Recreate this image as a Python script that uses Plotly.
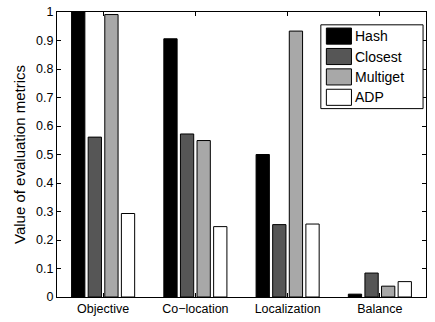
import plotly.graph_objects as go

categories = ["Objective", "Co\u2212location", "Localization", "Balance"]
series_names = ["Hash", "Closest", "Multiget", "ADP"]
hash_vals = [1.0, 0.906, 0.500, 0.010]
closest_vals = [0.561, 0.572, 0.254, 0.084]
multiget_vals = [0.991, 0.549, 0.933, 0.038]
adp_vals = [0.293, 0.247, 0.256, 0.054]
y_ticks = [0, 0.1, 0.2, 0.3, 0.4, 0.5, 0.6, 0.7, 0.8, 0.9, 1]
y_ticklabels = ["0", "0.1", "0.2", "0.3", "0.4", "0.5", "0.6", "0.7", "0.8", "0.9", "1"]

colors = ["#000000", "#565656", "#a8a8a8", "#ffffff"]
all_vals = [hash_vals, closest_vals, multiget_vals, adp_vals]

FONT = "Liberation Sans, Arial, Helvetica, sans-serif"

fig = go.Figure()
for name, vals, c in zip(series_names, all_vals, colors):
    fig.add_trace(go.Bar(
        x=categories, y=vals, name=name, showlegend=False,
        marker=dict(color=c, line=dict(color="#000000", width=1)),
    ))

# Manual MATLAB-style legend
shapes = []
annotations = []
lx0, lx1, ly0, ly1 = 0.715, 0.992, 0.661, 0.955
shapes.append(dict(type="rect", xref="paper", yref="paper", x0=lx0, x1=lx1, y0=ly0, y1=ly1,
                   line=dict(color="#000000", width=1), fillcolor="#ffffff", layer="above"))
row_h = 20.9 / 292
sw_h = 16.5 / 292
top_center = (297 - 29.7) / 292
for i, (name, c) in enumerate(zip(series_names, colors)):
    yc = top_center - i * row_h
    shapes.append(dict(type="rect", xref="paper", yref="paper", x0=0.730, x1=0.798,
                       y0=yc - sw_h / 2, y1=yc + sw_h / 2,
                       line=dict(color="#000000", width=1), fillcolor=c, layer="above"))
    annotations.append(dict(xref="paper", yref="paper", x=0.803, y=yc, text=name,
                            showarrow=False, xanchor="left", yanchor="middle",
                            font=dict(family=FONT, size=14, color="#000000")))

fig.update_layout(
    width=435, height=322,
    margin=dict(l=57, r=9, t=5, b=25),
    paper_bgcolor="#ffffff", plot_bgcolor="#ffffff",
    barmode="group", bargap=0.28, bargroupgap=0.2,
    font=dict(family=FONT, size=12.5, color="#000000"),
    shapes=shapes, annotations=annotations,
    showlegend=False,
)
fig.update_xaxes(
    range=[-0.5, 3.5], showgrid=False, showline=True, linecolor="#000000", linewidth=1,
    mirror="ticks", ticks="inside", ticklen=4, tickcolor="#000000",
    tickfont=dict(family=FONT, size=12.5, color="#000000"),
)
fig.update_yaxes(
    range=[0, 1], tickvals=y_ticks, ticktext=y_ticklabels, showgrid=False, zeroline=False,
    showline=True, linecolor="#000000", linewidth=1, mirror="ticks", ticks="inside",
    ticklen=4, tickcolor="#000000", ticklabeloverflow="allow",
    tickfont=dict(family=FONT, size=12.5, color="#000000"),
    title=dict(text="Value of evaluation metrics", font=dict(family=FONT, size=15, color="#000000"),
               standoff=6),
)

fig.write_html("out.html", config={"displayModeBar": False},
               post_script="document.body.style.margin='0';")
